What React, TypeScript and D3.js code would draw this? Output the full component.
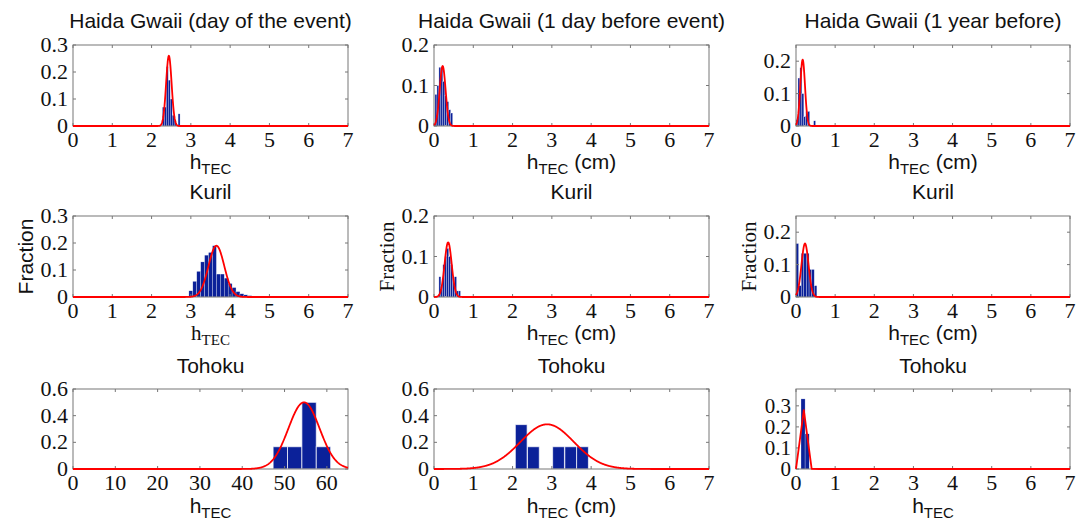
import React from "react";
import * as d3 from "d3";

// ---------- data ----------
const titles = [
  "Haida Gwaii (day of the event)",
  "Haida Gwaii (1 day before event)",
  "Haida Gwaii (1 year before)",
  "Kuril", "Kuril", "Kuril",
  "Tohoku", "Tohoku", "Tohoku",
];
const xUnits = ["", " (cm)", " (cm)", "", " (cm)", " (cm)", "", " (cm)", ""];

const xTicks7 = [0, 1, 2, 3, 4, 5, 6, 7];
const xTicks65 = [0, 10, 20, 30, 40, 50, 60];

const yTicks03 = [0, 0.1, 0.2, 0.3];
const yTicks02 = [0, 0.1, 0.2];
const yTicks06 = [0, 0.2, 0.4, 0.6];

// Haida Gwaii, day of the event
const p1Centers = [2.3, 2.35, 2.4, 2.45, 2.5, 2.55, 2.6, 2.7];
const p1Values = [0.07, 0.07, 0.22, 0.17, 0.1, 0.04, 0.02, 0.045];
// Haida Gwaii, 1 day before
const p2Centers = [0.05, 0.1, 0.15, 0.2, 0.25, 0.3, 0.35, 0.4, 0.45];
const p2Values = [0.078, 0.1, 0.145, 0.145, 0.11, 0.075, 0.06, 0.04, 0.032];
// Haida Gwaii, 1 year before
const p3Centers = [0.025, 0.075, 0.125, 0.175, 0.225, 0.275, 0.325, 0.475];
const p3Values = [0.02, 0.148, 0.18, 0.1, 0.03, 0.045, 0.045, 0.016];
// Kuril, day of the event
const p4Centers = [3.0, 3.1, 3.2, 3.3, 3.4, 3.5, 3.6, 3.7, 3.8, 3.9, 4.0, 4.1, 4.2, 4.3, 4.4, 4.5];
const p4Values = [0.023, 0.058, 0.095, 0.13, 0.155, 0.165, 0.19, 0.085, 0.085, 0.07, 0.05, 0.035, 0.02, 0.012, 0.008, 0.005];
// Kuril, 1 day before
const p5Centers = [0.15, 0.2, 0.25, 0.3, 0.35, 0.4, 0.45, 0.5, 0.55, 0.6, 0.65];
const p5Values = [0.05, 0.03, 0.08, 0.1, 0.12, 0.1, 0.08, 0.05, 0.05, 0.015, 0.015];
// Kuril, 1 year before
const p6Centers = [0.033, 0.1, 0.167, 0.233, 0.3, 0.367, 0.433, 0.5];
const p6Values = [0.165, 0.035, 0.135, 0.135, 0.135, 0.085, 0.085, 0.035];
// Tohoku, day of the event
const p7Centers = [49.0, 52.4, 55.8, 59.2];
const p7Values = [0.167, 0.167, 0.5, 0.167];
// Tohoku, 1 day before
const p8Centers = [2.22, 2.53, 3.17, 3.48, 3.78];
const p8Values = [0.333, 0.167, 0.167, 0.167, 0.167];
// Tohoku, 1 year before
const p9Centers = [0.18, 0.285];
const p9Values = [0.333, 0.167];

const binWidths = [0.05, 0.05, 0.05, 0.1, 0.05, 0.067, 3.4, 0.3, 0.105];

// normal fits (mean, sd, peak)
const fitMeans = [2.44, 0.22, 0.17, 3.65, 0.36, 0.23, 54.6, 2.88, 0.2];
const fitSds = [0.07, 0.075, 0.06, 0.2, 0.09, 0.09, 3.7, 0.68, 0.06];
const fitPeaks = [0.26, 0.148, 0.205, 0.19, 0.135, 0.165, 0.5, 0.335, 0.28];
const fitSteps = [0.01, 0.01, 0.01, 0.01, 0.01, 0.01, 0.1, 0.01, 0.2];

const yMaxes = [0.3, 0.2, 0.25, 0.3, 0.2, 0.25, 0.6, 0.6, 0.38];
const xMaxes = [7, 7, 7, 7, 7, 7, 65, 7, 7];

// ---------- layout ----------
const colX = [[73, 348], [434, 709], [796, 1070]];
const rowY = [[45, 126], [216, 297], [389, 469]];
const titleBase = [28, 199, 373];
const xLabelBase = [169, 340, 513];

const SANS = "Liberation Sans, Arial, Helvetica, sans-serif";
const SERIF = "Liberation Serif, Times New Roman, serif";
const BAR = "#0b2199";
const RED = "#ff0000";
const FRAME = "#777777";

const centersAll = [p1Centers, p2Centers, p3Centers, p4Centers, p5Centers, p6Centers, p7Centers, p8Centers, p9Centers];
const valuesAll = [p1Values, p2Values, p3Values, p4Values, p5Values, p6Values, p7Values, p8Values, p9Values];
const yTicksAll = [yTicks03, yTicks02, yTicks02, yTicks03, yTicks02, yTicks02, yTicks06, yTicks06, yTicks03];

function Panel({ i }: { i: number }) {
  const r = Math.floor(i / 3);
  const c = i % 3;
  const [x0, x1] = colX[c];
  const [y0, y1] = rowY[r];
  const xs = d3.scaleLinear().domain([0, xMaxes[i]]).range([x0, x1]);
  const ys = d3.scaleLinear().domain([0, yMaxes[i]]).range([y1, y0]);
  const xt = xMaxes[i] > 10 ? xTicks65 : xTicks7;
  const yt = yTicksAll[i];
  const w = binWidths[i];

  const pts: [number, number][] = [];
  const step = fitSteps[i];
  const n = Math.round(xMaxes[i] / step);
  for (let k = 0; k <= n; k++) {
    const x = k * step;
    const z = (x - fitMeans[i]) / fitSds[i];
    pts.push([x, fitPeaks[i] * Math.exp(-0.5 * z * z)]);
  }
  const line = d3.line<[number, number]>().x((d) => xs(d[0])).y((d) => ys(d[1]));

  const cx = (x0 + x1) / 2;
  const serifX = i === 3;
  const tb = xLabelBase[r];
  const fmt = (v: number) => (v === 0 ? "0" : String(v));
  const tickFs = i === 8 ? 21 : 22;

  return (
    <g>
      <text x={cx} y={titleBase[r]} textAnchor="middle" fontFamily={SANS} fontSize={21} fill="#111">
        {titles[i]}
      </text>
      {centersAll[i].map((ctr, k) => {
        const v = valuesAll[i][k];
        const a = xs(ctr - w / 2);
        const b = xs(ctr + w / 2);
        return (
          <rect key={k} x={a} y={ys(v)} width={b - a} height={ys(0) - ys(v)} fill={BAR} stroke="#ffffff" strokeOpacity={0.7} strokeWidth={w > 0.2 ? 1 : 0.4} />
        );
      })}
      <rect x={x0} y={y0} width={x1 - x0} height={y1 - y0} fill="none" stroke={FRAME} strokeWidth={1} />
      {xt.map((t) => (
        <g key={"xt" + t}>
          <line x1={xs(t)} x2={xs(t)} y1={y1} y2={y1 - 3} stroke={FRAME} />
          <line x1={xs(t)} x2={xs(t)} y1={y0} y2={y0 + 3} stroke={FRAME} />
          <text x={xs(t)} y={y1 + 21} textAnchor="middle" fontFamily={SERIF} fontSize={22} fill="#111">{t}</text>
        </g>
      ))}
      {yt.map((t) => (
        <g key={"yt" + t}>
          <line x1={x0} x2={x0 + 3} y1={ys(t)} y2={ys(t)} stroke={FRAME} />
          <line x1={x1} x2={x1 - 3} y1={ys(t)} y2={ys(t)} stroke={FRAME} />
          <text x={x0 - 5} y={ys(t) + 7} textAnchor="end" fontFamily={SERIF} fontSize={tickFs} fill="#111">{fmt(t)}</text>
        </g>
      ))}
      <path d={line(pts) || ""} fill="none" stroke={RED} strokeWidth={1.8} strokeLinejoin="round" />
      <text x={cx} y={tb} textAnchor="middle" fontFamily={serifX ? SERIF : SANS} fontSize={21} fill="#111">
        <tspan>h</tspan>
        <tspan dy={5} fontSize={15}>TEC</tspan>
        {xUnits[i] ? <tspan dy={-5}>{xUnits[i]}</tspan> : null}
      </text>
      {r === 1 ? (
        <text
          transform={`translate(${c === 0 ? 33 : colX[c][0] - 40},${(y0 + y1) / 2}) rotate(-90)`}
          textAnchor="middle"
          fontFamily={c === 0 ? SANS : SERIF}
          fontSize={21}
          fill="#111"
        >
          Fraction
        </text>
      ) : null}
    </g>
  );
}

export default function App() {
  const idx = [0, 1, 2, 3, 4, 5, 6, 7, 8];
  return (
    <svg width={1089} height={521} style={{ position: "absolute", left: 0, top: 0, background: "#fff" }}>
      <rect x={0} y={0} width={1089} height={521} fill="#fff" />
      {idx.map((i) => (
        <Panel key={i} i={i} />
      ))}
    </svg>
  );
}
